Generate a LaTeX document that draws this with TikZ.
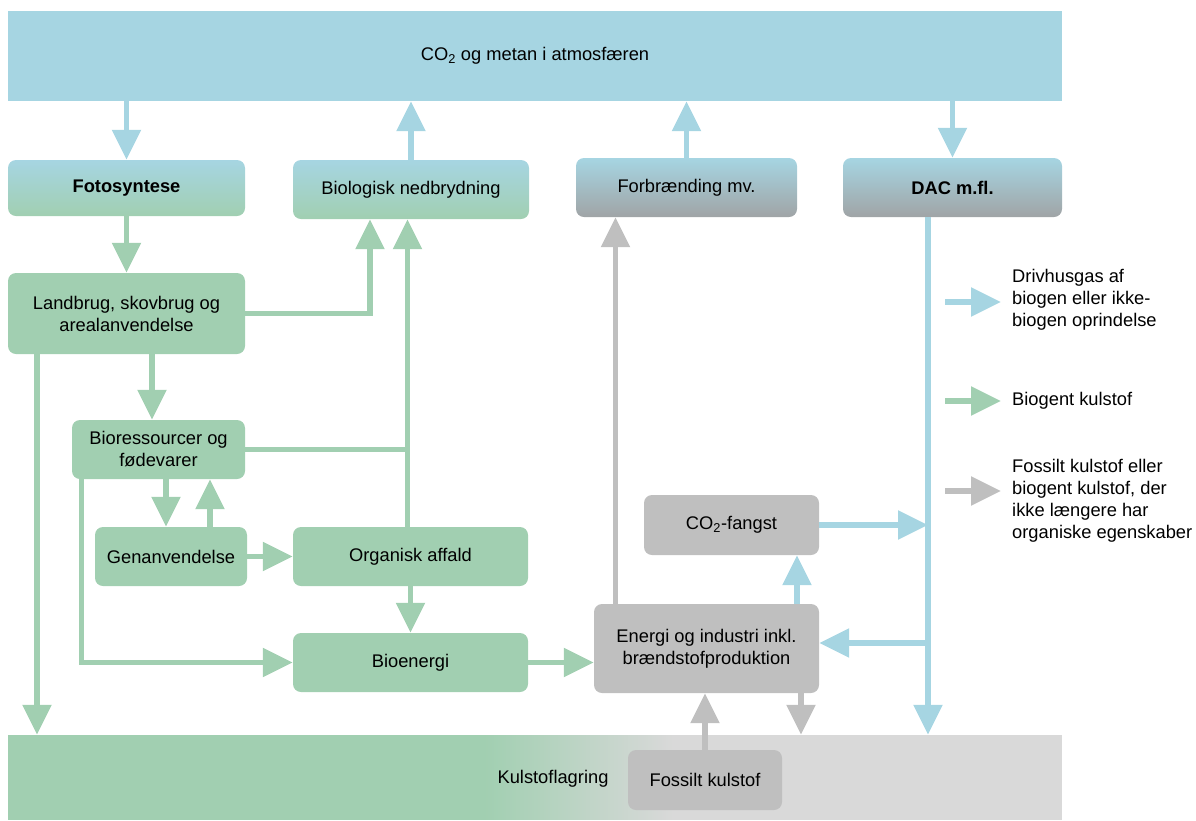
\documentclass[tikz,border=0pt]{standalone}
\usepackage{fontspec}
\setmainfont{Liberation Sans}
\usetikzlibrary{arrows.meta,calc}
\definecolor{kblue}{HTML}{A6D5E2}
\definecolor{kgreen}{HTML}{A1CFB1}
\definecolor{kgray}{HTML}{BFBFBF}
\definecolor{kband}{HTML}{D9D9D9}
\definecolor{kdark}{HTML}{A0A4A6}
\begin{document}
\begin{tikzpicture}[x=1pt,y=-1pt,
  every node/.style={font=\fontsize{18.3}{22}\selectfont, inner sep=0pt},
  box/.style={rounded corners=8pt, align=center},
  bluegreen/.style={box, top color=kblue, middle color=kblue, bottom color=kgreen},
  bluegray/.style={box, top color=kblue, middle color=kblue, bottom color=kdark},
  greenbox/.style={box, fill=kgreen},
  graybox/.style={box, fill=kgray},
  flow/.style={line width=5.5pt, -{Triangle[width=28pt,length=30pt]}},
  bflow/.style={flow, draw=kblue, color=kblue},
  gflow/.style={flow, draw=kgreen, color=kgreen},
  yflow/.style={flow, draw=kgray, color=kgray},
  gline/.style={line width=5.5pt, draw=kgreen},
  legtext/.style={anchor=west, align=left}
]
\useasboundingbox (0,0) rectangle (1196,820);

% bottom band
\fill[kband] (8,735) rectangle (1062,820);
\fill[kgreen] (8,735) rectangle (486,820);
\foreach \i in {0,...,94} {
  \pgfmathsetmacro{\pct}{100-\i*100/94}
  \fill[kgreen!\pct!kband] (484+2*\i,735) rectangle (486.6+2*\i,820);
}
\node[minimum width=1054pt, minimum height=85pt] (band) at (535,777.5) {};
\node (lager) at (553,779) {Kulstoflagring};

% nodes
\node[fill=kblue, minimum width=1054pt, minimum height=90pt] (atm) at (535,56) {CO\textsubscript{2} og metan i atmosfæren};
\node[bluegreen, minimum width=237pt, minimum height=56pt] (foto) at (126.5,188) {\bfseries Fotosyntese};
\node[bluegreen, minimum width=236pt, minimum height=59pt] (bio) at (411,189.5) {Biologisk nedbrydning};
\node[bluegray, minimum width=221pt, minimum height=59pt] (forb) at (686.5,187.5) {Forbrænding mv.};
\node[bluegray, minimum width=219pt, minimum height=59pt] (dac) at (952.5,187.5) {\bfseries DAC m.fl.};
\node[greenbox, minimum width=237pt, minimum height=81pt] (land) at (126.5,313.5) {Landbrug, skovbrug og\\arealanvendelse};
\node[greenbox, minimum width=173pt, minimum height=59pt] (biores) at (158.5,449.5) {Bioressourcer og\\fødevarer};
\node[greenbox, minimum width=152pt, minimum height=59pt] (gen) at (171,556.5) {Genanvendelse};
\node[greenbox, minimum width=235pt, minimum height=59pt] (org) at (410.5,556.5) {Organisk affald};
\node[greenbox, minimum width=235pt, minimum height=59pt] (bioen) at (410.5,662.5) {Bioenergi};
\node[graybox, minimum width=175pt, minimum height=60pt] (fang) at (731.5,525) {CO\textsubscript{2}-fangst};
\node[graybox, minimum width=225pt, minimum height=89pt] (energi) at (706.5,648.5) {Energi og industri inkl.\\brændstofproduktion};
\node[graybox, minimum width=154pt, minimum height=60pt] (fossil) at (705,780) {Fossilt kulstof};

% connectors: atmosphere
\draw[bflow] (atm.south -| foto.north) -- (foto.north);
\draw[bflow] (bio.north) -- (bio.north |- atm.south);
\draw[bflow] (forb.north) -- (forb.north |- atm.south);
\draw[bflow] (atm.south -| dac.north) -- (dac.north);

% green flows
\draw[gflow] (foto.south) -- (land.north);
\draw[gflow] (land.east) -| ([xshift=-41pt]bio.south);
\coordinate (orgup) at ([xshift=-3pt]org.north);
\draw[gline] (biores.east) -- (biores.east -| orgup);
\draw[gflow] (orgup) -- (orgup |- bio.south);
\draw[gflow] ([xshift=25.5pt]land.south) -- ([xshift=25.5pt]land.south |- biores.north);
\draw[gflow] ([xshift=-89.5pt]land.south) -- ([xshift=-89.5pt]land.south |- band.north);
\draw[gflow] ([xshift=-5pt]gen.north |- biores.south) -- ([xshift=-5pt]gen.north);
\draw[gflow] ([xshift=39pt]gen.north) -- ([xshift=39pt]gen.north |- biores.south);
\draw[gflow] ([xshift=-77pt]biores.south) |- (bioen.west);
\draw[gflow] (gen.east) -- (org.west);
\draw[gflow] (org.south) -- (bioen.north);
\draw[gflow] (bioen.east) -- (bioen.east -| energi.west);

% gray and blue flows around energy
\draw[yflow] ([xshift=-91pt]energi.north) -- ([xshift=-91pt]energi.north |- forb.south);
\draw[bflow] ([xshift=90.5pt]energi.north) -- ([xshift=90.5pt]energi.north |- fang.south);
\coordinate (dacx) at ([xshift=-24.5pt]dac.south);
\draw[bflow] (dacx) -- (dacx |- band.north);
\draw[bflow] (fang.east) -- (fang.east -| dacx);
\draw[bflow] ([yshift=5.5pt]energi.east -| dacx) -- ([yshift=5.5pt]energi.east);
\draw[yflow] ([xshift=94.5pt]energi.south) -- ([xshift=94.5pt]energi.south |- band.north);
\draw[yflow] (fossil.north) -- (fossil.north |- energi.south);

% legend
\node[legtext] (leg1) at (1012,300) {Drivhusgas af\\biogen eller ikke-\\biogen oprindelse};
\node[legtext] (leg2) at (1012,401) {Biogent kulstof};
\node[legtext] (leg3) at (1012,501) {Fossilt kulstof eller\\biogent kulstof, der\\ikke længere har\\organiske egenskaber};
\coordinate (l1s) at (945,302); \coordinate (l1e) at (1001,302);
\coordinate (l2s) at (945,401); \coordinate (l2e) at (1001,401);
\coordinate (l3s) at (945,491); \coordinate (l3e) at (1001,491);
\draw[bflow] (l1s) -- (l1e);
\draw[gflow] (l2s) -- (l2e);
\draw[yflow] (l3s) -- (l3e);
\end{tikzpicture}
\end{document}
